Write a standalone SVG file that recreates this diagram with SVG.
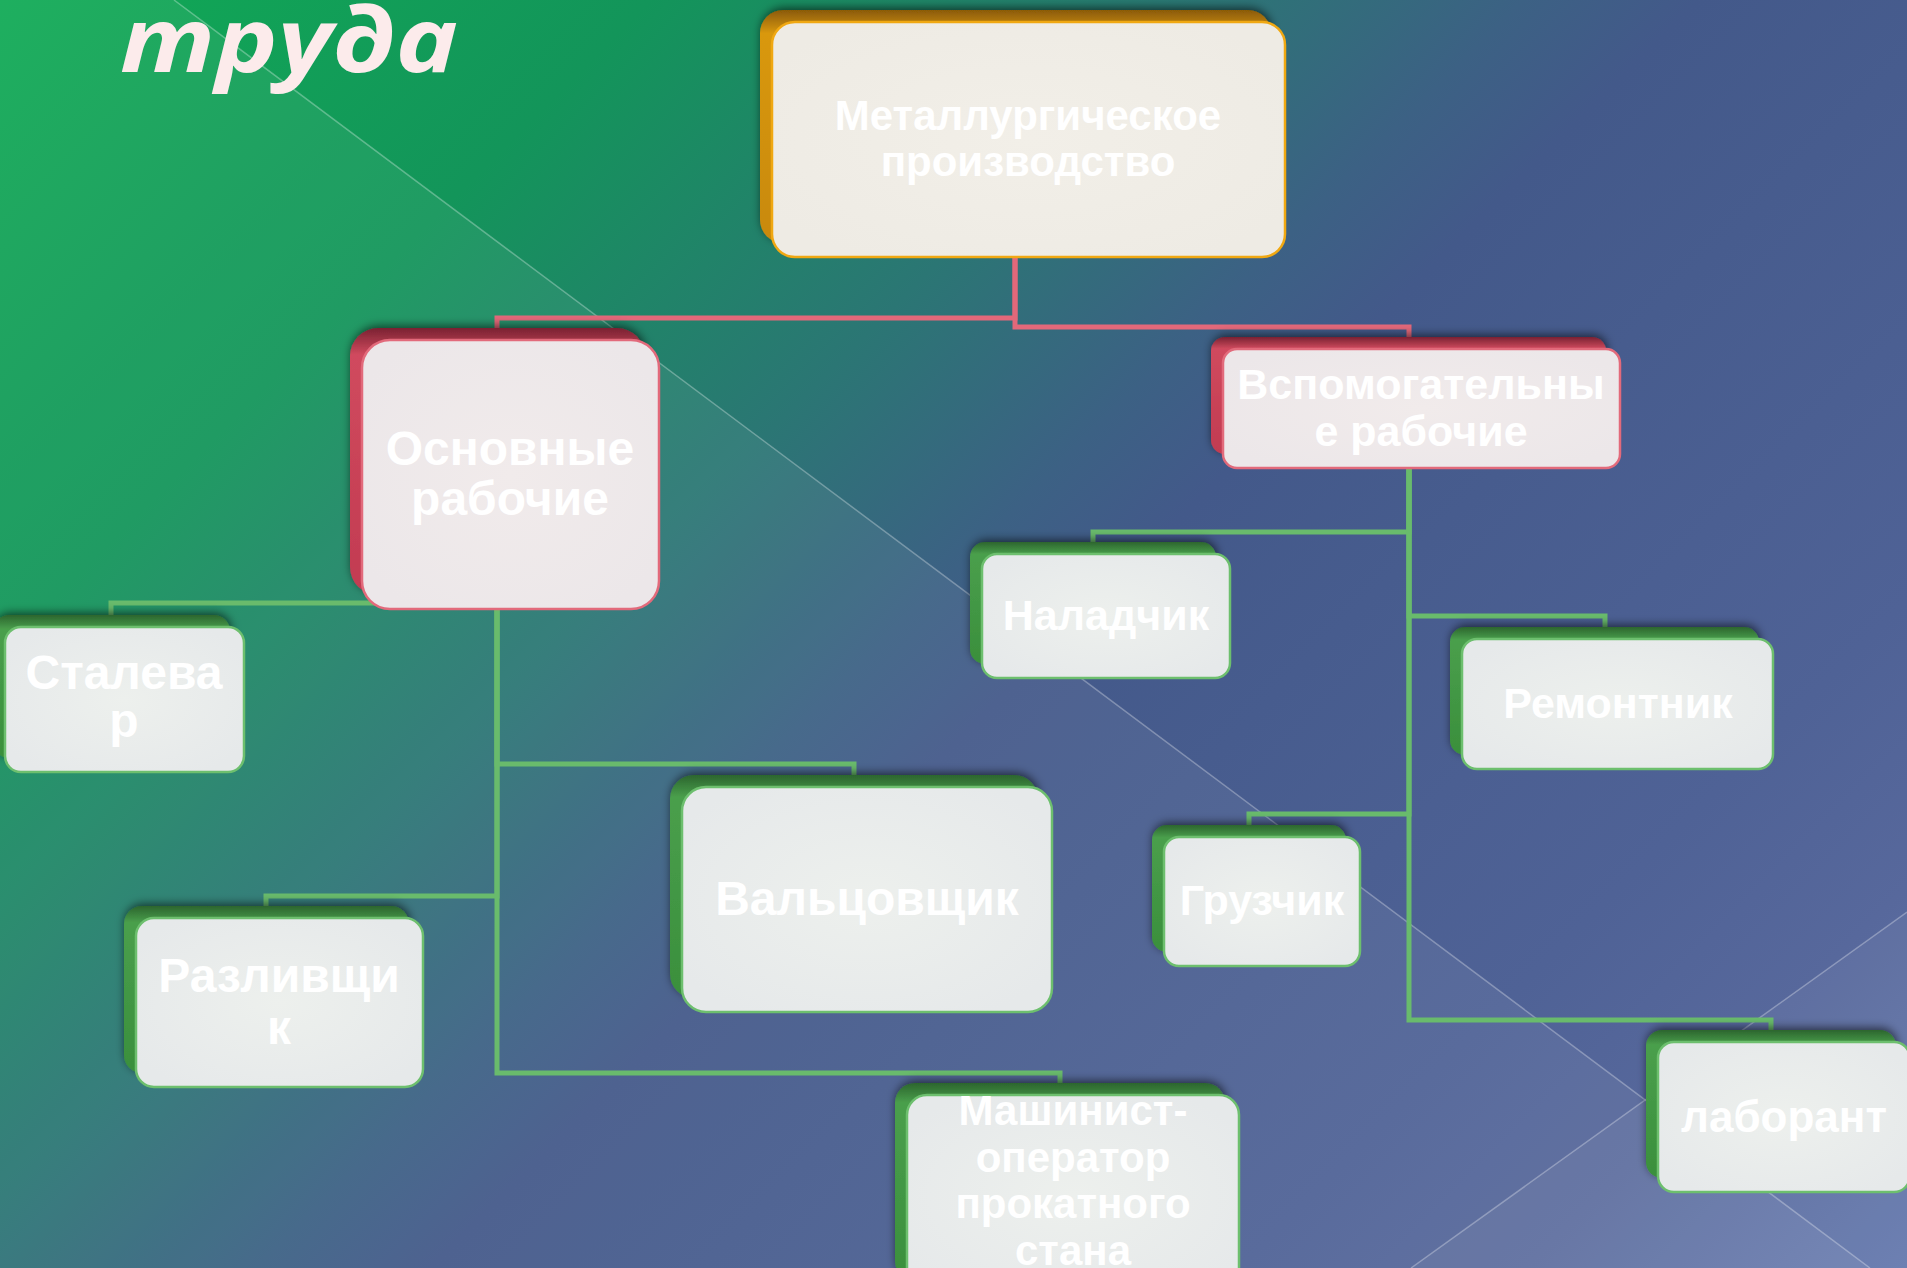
<svg xmlns="http://www.w3.org/2000/svg" width="1907" height="1268" viewBox="0 0 1907 1268">
<defs>
<linearGradient id="bg" gradientUnits="userSpaceOnUse" x1="0" y1="0" x2="1587.5" y2="1587.5">
<stop offset="0" stop-color="#10aa55"/>
<stop offset="0.205" stop-color="#13955a"/>
<stop offset="0.378" stop-color="#2b7674"/>
<stop offset="0.48" stop-color="#3c6184"/>
<stop offset="0.535" stop-color="#43598a"/>
<stop offset="0.79" stop-color="#4f6296"/>
<stop offset="0.88" stop-color="#57689c"/>
<stop offset="1" stop-color="#667aae"/>
</linearGradient>
<linearGradient id="bkG" x1="0" y1="0" x2="0" y2="1">
<stop offset="0" stop-color="#2c652e"/>
<stop offset="0.1" stop-color="#4a9f4c"/>
<stop offset="1" stop-color="#3a8f3c"/>
</linearGradient>
<linearGradient id="bkP" x1="0" y1="0" x2="0" y2="1">
<stop offset="0" stop-color="#7a2232"/>
<stop offset="0.1" stop-color="#d04a5e"/>
<stop offset="1" stop-color="#c23b51"/>
</linearGradient>
<linearGradient id="bkO" x1="0" y1="0" x2="0" y2="1">
<stop offset="0" stop-color="#8a5a06"/>
<stop offset="0.1" stop-color="#d9980f"/>
<stop offset="1" stop-color="#c8890c"/>
</linearGradient>
<radialGradient id="frG" cx="0.5" cy="0.5" r="0.6">
<stop offset="0" stop-color="#edf0ed"/>
<stop offset="1" stop-color="#e6e9ea"/>
</radialGradient>
<radialGradient id="frP" cx="0.5" cy="0.5" r="0.6">
<stop offset="0" stop-color="#f1ebeb"/>
<stop offset="1" stop-color="#ece7e9"/>
</radialGradient>
<radialGradient id="frO" cx="0.5" cy="0.5" r="0.6">
<stop offset="0" stop-color="#f2efe8"/>
<stop offset="1" stop-color="#eeebe4"/>
</radialGradient>
<filter id="sh" x="-10%" y="-20%" width="120%" height="140%">
<feGaussianBlur in="SourceAlpha" stdDeviation="5"/>
<feOffset dx="1" dy="-2" result="b"/>
<feFlood flood-color="#000" flood-opacity="0.6"/>
<feComposite in2="b" operator="in"/>
<feMerge><feMergeNode/><feMergeNode in="SourceGraphic"/></feMerge>
</filter>
<style>
.bkG{fill:url(#bkG);filter:url(#sh)}
.bkP{fill:url(#bkP);filter:url(#sh)}
.bkO{fill:url(#bkO);filter:url(#sh)}
.frG{fill:url(#frG);stroke:#6dbf6e;stroke-width:2.5}
.frP{fill:url(#frP);stroke:#e26a7b;stroke-width:2.5}
.frO{fill:url(#frO);stroke:#f0a812;stroke-width:2.5}
.t{font-family:"Liberation Sans",Arial,sans-serif;font-weight:bold;fill:#ffffff;text-anchor:middle}
.cp{fill:none;stroke:#e3687a;stroke-width:5}
.cg{fill:none;stroke:#69bb6c;stroke-width:5}
.bl{stroke:#ffffff;stroke-opacity:0.3;stroke-width:1.5}
</style>
</defs>
<rect x="0" y="0" width="1907" height="1268" fill="url(#bg)"/>
<polygon points="0,0 174,0 1870,1268 0,1268" fill="#ffffff" fill-opacity="0.06"/>
<polygon points="1907,912 1411,1268 1907,1268" fill="#ffffff" fill-opacity="0.05"/>
<line class="bl" x1="174" y1="0" x2="1870" y2="1268"/>
<line class="bl" x1="1907" y1="912" x2="1411" y2="1268"/>
<text x="120" y="72" font-family="'Open Sans','Noto Sans',sans-serif" font-style="italic" font-weight="bold" font-size="90" textLength="338" lengthAdjust="spacingAndGlyphs" fill="#fcebeb">труда</text>
<g id="connectors">
<path class="cp" d="M1015,243 V318 H497 V328"/>
<path class="cp" d="M1015,243 V327 H1409 V337"/>
<path class="cg" d="M497,595 V603 H111 V615"/>
<path class="cg" d="M497,595 V764 H854 V775"/>
<path class="cg" d="M497,595 V896 H266 V906"/>
<path class="cg" d="M497,595 V1073 H1060 V1083"/>
<path class="cg" d="M1409,454 V532 H1093 V542"/>
<path class="cg" d="M1409,454 V616 H1605 V627"/>
<path class="cg" d="M1409,454 V814 H1249 V825"/>
<path class="cg" d="M1409,454 V1020 H1771 V1030"/>
</g>
<g id="node-metallurgy">
<rect class="bkO" x="760" y="10" width="511" height="233" rx="23"/>
<rect class="frO" x="772" y="22" width="513" height="235" rx="23"/>
<text class="t" font-size="42"><tspan x="1028" y="130">Металлургическое</tspan><tspan x="1028" y="176">производство</tspan></text>
</g>
<g id="node-osnovnye">
<rect class="bkP" x="350" y="328" width="295" height="267" rx="28"/>
<rect class="frP" x="362" y="340" width="297" height="269" rx="28"/>
<text class="t" font-size="48"><tspan x="510" y="465">Основные</tspan><tspan x="510" y="515">рабочие</tspan></text>
</g>
<g id="node-vspomog">
<rect class="bkP" x="1211" y="337" width="395" height="117" rx="14"/>
<rect class="frP" x="1223" y="349" width="397" height="119" rx="14"/>
<text class="t" font-size="43"><tspan x="1421" y="399">Вспомогательны</tspan><tspan x="1421" y="446">е рабочие</tspan></text>
</g>
<g id="node-stalevar">
<rect class="bkG" x="-7" y="615" width="237" height="143" rx="16"/>
<rect class="frG" x="5" y="627" width="239" height="145" rx="16"/>
<text class="t" font-size="48"><tspan x="124" y="689">Сталева</tspan><tspan x="124" y="737">р</tspan></text>
</g>
<g id="node-naladchik">
<rect class="bkG" x="970" y="542" width="246" height="122" rx="15"/>
<rect class="frG" x="982" y="554" width="248" height="124" rx="15"/>
<text class="t" font-size="43" x="1106" y="630">Наладчик</text>
</g>
<g id="node-remontnik">
<rect class="bkG" x="1450" y="627" width="309" height="128" rx="15"/>
<rect class="frG" x="1462" y="639" width="311" height="130" rx="15"/>
<text class="t" font-size="43" x="1618" y="718">Ремонтник</text>
</g>
<g id="node-valtsovshchik">
<rect class="bkG" x="670" y="775" width="368" height="223" rx="24"/>
<rect class="frG" x="682" y="787" width="370" height="225" rx="24"/>
<text class="t" font-size="48" x="867" y="915">Вальцовщик</text>
</g>
<g id="node-gruzchik">
<rect class="bkG" x="1152" y="825" width="194" height="127" rx="15"/>
<rect class="frG" x="1164" y="837" width="196" height="129" rx="15"/>
<text class="t" font-size="43" x="1262" y="915">Грузчик</text>
</g>
<g id="node-razlivshchik">
<rect class="bkG" x="124" y="906" width="285" height="167" rx="18"/>
<rect class="frG" x="136" y="918" width="287" height="169" rx="18"/>
<text class="t" font-size="48"><tspan x="279" y="992">Разливщи</tspan><tspan x="279" y="1044">к</tspan></text>
</g>
<g id="node-mashinist">
<rect class="bkG" x="895" y="1083" width="330" height="198" rx="20"/>
<rect class="frG" x="907" y="1095" width="332" height="200" rx="20"/>
<text class="t" font-size="42"><tspan x="1073" y="1125">Машинист-</tspan><tspan x="1073" y="1172">оператор</tspan><tspan x="1073" y="1218">прокатного</tspan><tspan x="1073" y="1265">стана</tspan></text>
</g>
<g id="node-laborant">
<rect class="bkG" x="1646" y="1030" width="250" height="148" rx="16"/>
<rect class="frG" x="1658" y="1042" width="252" height="150" rx="16"/>
<text class="t" font-size="44" x="1784" y="1132">лаборант</text>
</g>
</svg>
